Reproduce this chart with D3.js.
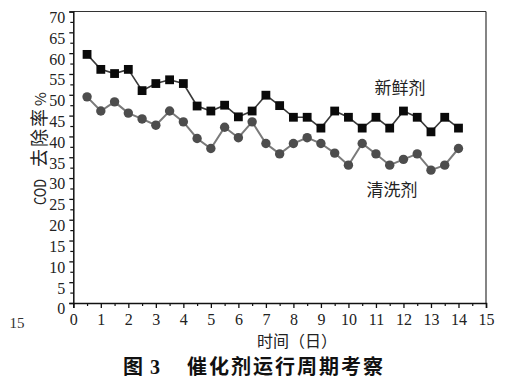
<!DOCTYPE html>
<html><head><meta charset="utf-8">
<script src="https://cdn.jsdelivr.net/npm/d3@7"></script>
<style>
html,body{margin:0;padding:0;background:#fff;}
svg{display:block;}
</style></head>
<body>
<svg id="chart" width="514" height="382"></svg>
<script>
const days = [0.5,1,1.5,2,2.5,3,3.5,4,4.5,5,5.5,6,6.5,7,7.5,8,8.5,9,9.5,10,10.5,11,11.5,12,12.5,13,13.5,14];
const fresh = [59.7,56.1,55.1,56.1,51.0,52.7,53.6,52.7,47.3,46.1,47.5,44.7,46.1,49.9,47.4,44.6,44.6,42.0,46.1,44.6,42.0,44.6,42.0,46.1,44.6,41.1,44.6,42.0];
const clean = [49.5,46.1,48.3,45.6,44.2,42.7,46.1,43.5,39.5,37.1,42.2,39.7,43.5,38.3,35.8,38.3,39.7,38.3,36.0,33.1,38.3,35.8,33.1,34.5,35.8,31.9,33.1,37.1];
const xTicks = d3.range(0,16,1);
const yTicks = d3.range(0,75,5);
const seriesNames = ["新鲜剂","清洗剂"];

const svg = d3.select("#chart");
const L=73.3, R=486, T=11.5, B=303;
const x = d3.scaleLinear().domain([0,15]).range([L,R]);
const y = d3.scaleLinear().domain([0,70]).range([B,T]);
const serif = "'Liberation Serif','Times New Roman',serif";
const cjk = "'Noto Sans CJK SC','Noto Sans',sans-serif";

// frame top/right
svg.append("line").attr("x1",L).attr("x2",R).attr("y1",T).attr("y2",T).attr("stroke","#333").attr("stroke-width",1.2);
svg.append("line").attr("x1",R).attr("x2",R).attr("y1",T).attr("y2",B).attr("stroke","#333").attr("stroke-width",1.2);

// x axis
const xAxis = d3.axisBottom(x).tickValues(xTicks).tickSize(5).tickFormat(d3.format("d"));
const gx = svg.append("g").attr("transform",`translate(0,${B})`).call(xAxis);
gx.select(".domain").attr("stroke","#111").attr("stroke-width",1.5);
gx.selectAll(".tick line").attr("stroke","#111").attr("stroke-width",1.3);
gx.selectAll(".tick text").attr("font-family",serif).attr("font-size",16).attr("fill","#222").attr("dy","1.0em").attr("y",6);
const xMinor = d3.axisBottom(x).tickValues(d3.range(0.5,15,1)).tickSize(3).tickFormat("");
const gxm = svg.append("g").attr("transform",`translate(0,${B})`).call(xMinor);
gxm.select(".domain").remove();
gxm.selectAll(".tick line").attr("stroke","#111").attr("stroke-width",1.2);

// y axis
const yAxis = d3.axisLeft(y).tickValues(yTicks).tickSize(4).tickFormat(d3.format("d"));
const gy = svg.append("g").attr("transform",`translate(${L},0)`).call(yAxis);
gy.select(".domain").attr("stroke","#111").attr("stroke-width",1.5);
gy.selectAll(".tick line").attr("stroke","#111").attr("stroke-width",1.3);
gy.selectAll(".tick text").attr("font-family",serif).attr("font-size",16).attr("fill","#222").attr("x",-8).attr("dy","0.68em");
const yMinor = d3.axisLeft(y).tickValues(d3.range(2.5,70,5)).tickSize(3).tickFormat("");
const gym = svg.append("g").attr("transform",`translate(${L},0)`).call(yMinor);
gym.select(".domain").remove();
gym.selectAll(".tick line").attr("stroke","#111").attr("stroke-width",1.2);

// stray label
svg.append("text").attr("x",17).attr("y",328).attr("text-anchor","middle").attr("font-family",serif).attr("font-size",15).attr("fill","#333").text("15");

// lines
const line = d3.line().x((d,i)=>x(days[i])).y(d=>y(d));
svg.append("path").datum(clean).attr("d",line).attr("fill","none").attr("stroke","#7a7a7a").attr("stroke-width",2);
svg.append("path").datum(fresh).attr("d",line).attr("fill","none").attr("stroke","#3a3a3a").attr("stroke-width",1.6);

svg.selectAll("circle.c").data(clean).enter().append("circle")
  .attr("cx",(d,i)=>x(days[i])).attr("cy",d=>y(d)).attr("r",4.7).attr("fill","#4d4d4d");
svg.selectAll("rect.f").data(fresh).enter().append("rect")
  .attr("x",(d,i)=>x(days[i])-4.4).attr("y",d=>y(d)-4.4).attr("width",8.8).attr("height",8.8).attr("fill","#0a0a0a");

// series labels
svg.append("text").attr("x",400).attr("y",94).attr("text-anchor","middle").attr("font-family",cjk).attr("font-size",17).attr("fill","#222").text(seriesNames[0]);
svg.append("text").attr("x",392).attr("y",196).attr("text-anchor","middle").attr("font-family",cjk).attr("font-size",17).attr("fill","#222").text(seriesNames[1]);

// y axis title
const yt = svg.append("text").attr("transform","translate(46,205) rotate(-90)").attr("text-anchor","start")
  .attr("font-family",cjk).attr("fill","#222");
yt.append("tspan").attr("font-size",16).attr("textLength",26).attr("lengthAdjust","spacingAndGlyphs").text("COD");
yt.append("tspan").attr("font-size",18).attr("dx",12).attr("letter-spacing",2).text("去除率");
yt.append("tspan").attr("font-size",15).attr("dx",1).text("%");

// x axis title
svg.append("text").attr("x",297).attr("y",347).attr("text-anchor","middle").attr("font-family",cjk).attr("font-size",16).attr("fill","#222").text("时间（日）");

// caption
const cap = svg.append("text").attr("x",123).attr("y",374).attr("font-weight","bold").attr("fill","#111").attr("font-size",20);
cap.append("tspan").attr("font-family",cjk).text("图");
cap.append("tspan").attr("font-family",serif).attr("dx",7).text("3");
cap.append("tspan").attr("font-family",cjk).attr("x",187).attr("letter-spacing",2).text("催化剂运行周期考察");
</script>
</body></html>
